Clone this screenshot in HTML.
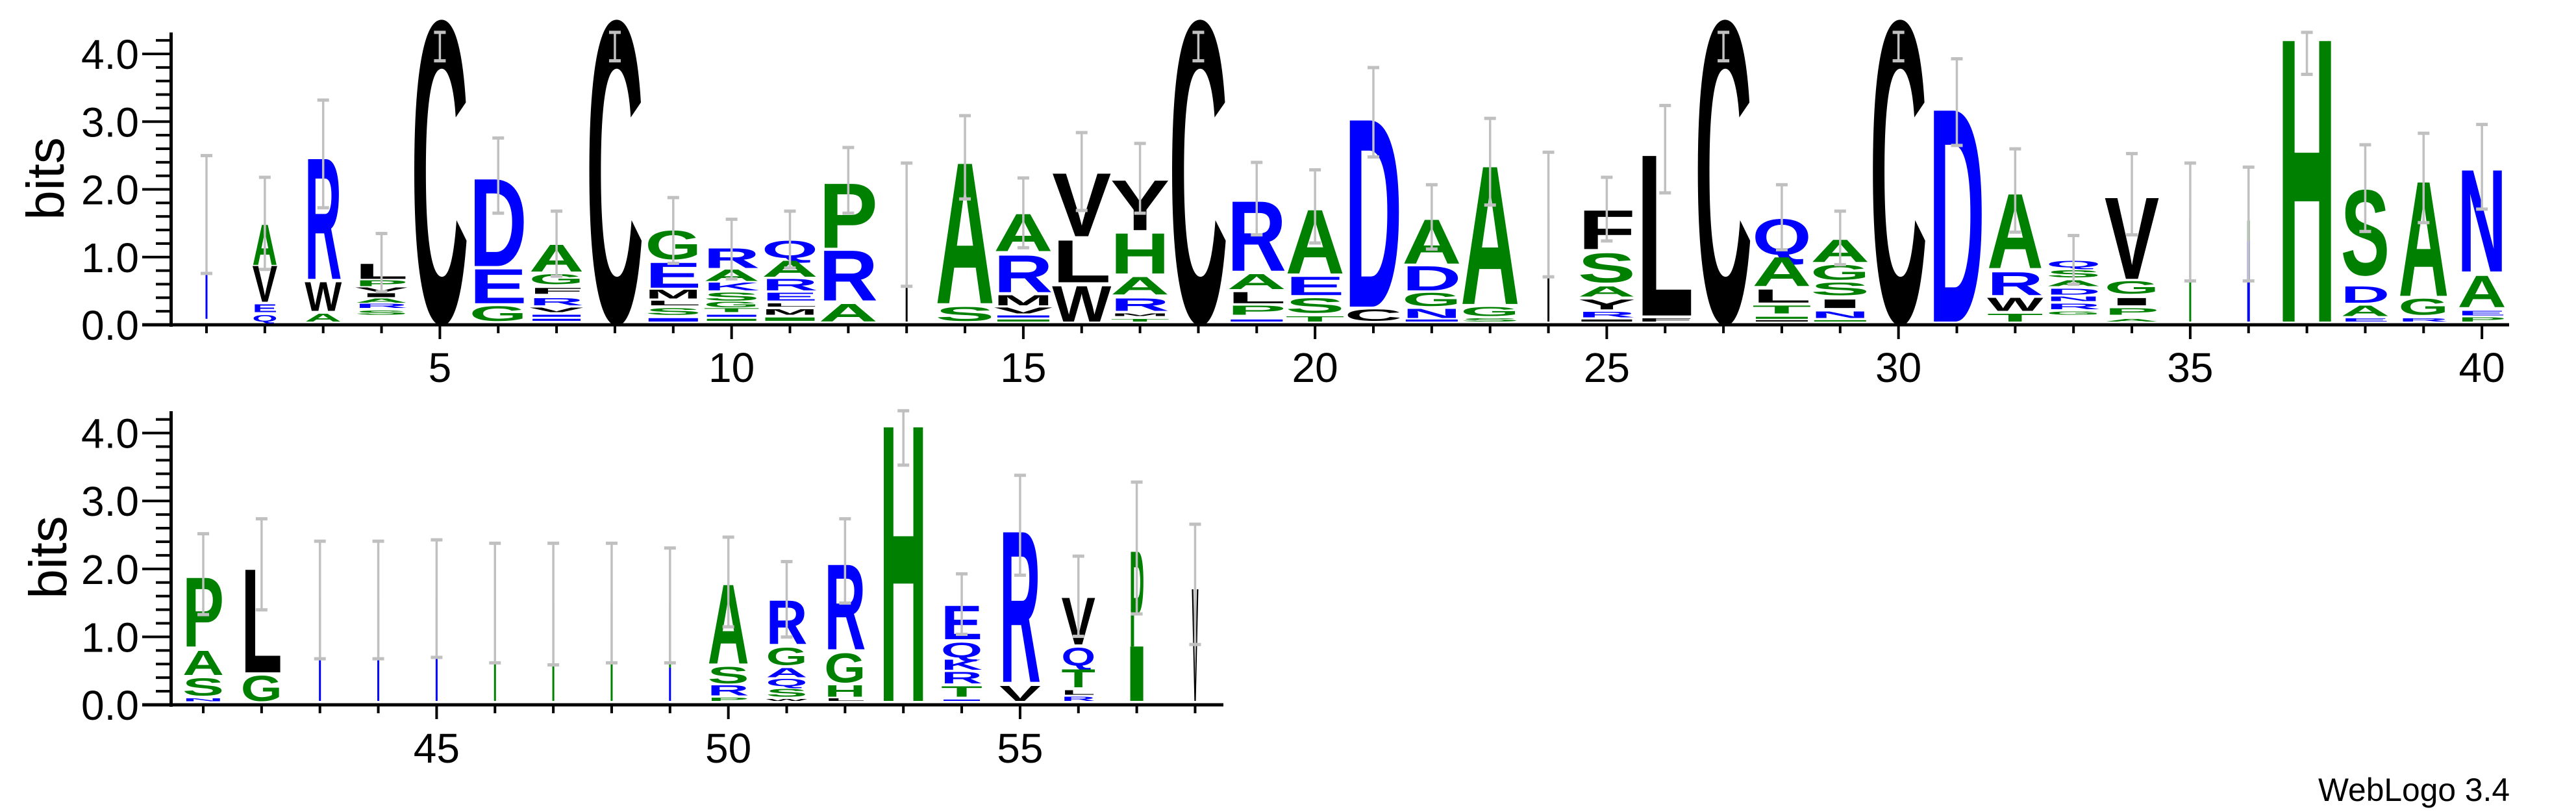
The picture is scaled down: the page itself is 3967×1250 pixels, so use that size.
<!DOCTYPE html>
<html><head><meta charset="utf-8">
<style>
html,body{margin:0;padding:0;background:#fff;}
svg{display:block;}
text{font-family:"Liberation Sans",Arial,sans-serif;}
</style></head>
<body>
<svg id="s" xmlns="http://www.w3.org/2000/svg" width="3967" height="1250" viewBox="0 0 3967 1250">
<rect width="3967" height="1250" fill="#fff"/>
<g id="axes"></g>
<g id="logo"></g>
<g id="err"></g>
<text x="3865" y="1233" font-size="50" text-anchor="end" textLength="295" lengthAdjust="spacingAndGlyphs">WebLogo 3.4</text>
<text transform="translate(98,275) rotate(-90)" font-size="82" text-anchor="middle">bits</text>
<text transform="translate(102,858) rotate(-90)" font-size="82" text-anchor="middle">bits</text>
</svg>
<script>
(function(){
var NS="http://www.w3.org/2000/svg";
var COL={g:"#008000",b:"#0000ff",k:"#000000"};
function el(p,t,a,txt){var e=document.createElementNS(NS,t);for(var k in a)e.setAttribute(k,a[k]);if(txt!==undefined)e.textContent=txt;p.appendChild(e);return e;}
var AX=document.getElementById("axes"),LG=document.getElementById("logo"),ER=document.getElementById("err");
var CE="C k 4.58 .01";
var TOPD=[
[1,3,["_ b 1.58 .05"],2.46,.72],
[2,34,["A g 1.46 .85","V k .85 .30","E b .27 .15","Q b .11 .01"],2.14,.78],
[3,50,["R b 2.48 .64","W k .61 .17","A g .13 .01"],3.28,1.69],
[4,72,["L k .87 .64","P g .62 .53","V k .51 .45","I k .43 .37","A g .35 .29","R b .27 .21","S g .17 .11"],1.31,.45],
[5,78,[CE],4.28,3.86],
[6,78,["D b 2.16 .83","E b .80 .28","G g .24 .02"],2.72,1.61],
[7,74,["A g 1.16 .75","G g .71 .56","F k .51 .42","R b .36 .25","V k .22 .15","_ b .11 .08","_ b .05 .02"],1.64,.68],
[8,78,[CE],4.28,3.86],
[9,76,["G g 1.36 .93","E b .89 .51","M k .48 .35","L k .32 .25","S g .21 .11","_ b .06 .01"],1.84,.87],
[10,76,["R b 1.10 .80","A g .78 .61","K b .59 .47","S g .44 .32","G g .30 .22","T g .21 .15","_ b .11 .08","_ g .05 .02"],1.52,.64],
[11,76,["Q b 1.21 .95","A g .91 .67","R b .64 .47","E b .44 .32","L k .28 .23","M k .19 .11","_ g .07 .02"],1.64,.80],
[12,80,["P g 2.08 1.10","R b 1.08 .32","A g .28 .01"],2.58,1.61],
[13,3,["_ k 1.42 .01"],2.35,.53],
[14,80,["A g 2.42 .28","S g .23 .02"],3.05,1.82],
[15,80,["A g 1.62 1.05","R b 1.00 .44","M k .40 .25","V k .22 .13","_ b .10 .07","_ g .04 .01"],2.13,1.10],
[16,80,["V k 2.23 1.27","L k 1.23 .59","W k .55 .01"],2.80,1.65],
[17,80,["Y k 2.12 1.36","H g 1.33 .72","A g .68 .41","R b .36 .17","M k .13 .09","T g .05 .01"],2.64,1.61],
[18,80,[CE],4.28,3.86],
[19,80,["R b 1.82 .76","A g .72 .49","L k .45 .28","P g .25 .11","_ b .04 .01"],2.36,1.29],
[20,80,["A g 1.69 .72","E b .68 .40","S g .36 .14","T g .09 .01"],2.25,1.17],
[21,78,["D b 3.09 .23","C k .19 .02"],3.76,2.44],
[22,80,["A g 1.54 .87","D b .84 .47","G g .44 .24","N b .20 .06","_ b .04 .01"],2.03,1.08],
[23,80,["A g 2.37 .27","G g .23 .09","S g .06 .01"],3.01,1.73],
[24,3,["_ k 1.59 .01"],2.51,.67],
[25,78,["F k 1.67 1.08","S g 1.03 .59","A g .53 .38","Y k .34 .19","R b .15 .07","_ k .04 .01"],2.14,1.20],
[26,78,["L k 2.55 .10","F k .06 .01"],3.20,1.91],
[27,78,[CE],4.28,3.86],
[28,80,["Q b 1.54 1.00","A g .97 .53","L k .49 .29","T g .25 .13","_ g .08 .05","_ k .03 .01"],2.03,1.07],
[29,80,["A g 1.23 .89","G g .85 .63","S g .59 .40","I k .34 .21","N b .16 .06","_ g .03 .01"],1.64,.85],
[30,78,[CE],4.28,3.86],
[31,76,["D b 3.25 .01"],3.89,2.61],
[32,76,["A g 1.93 .80","R b .75 .40","W k .37 .17","T g .13 .01"],2.56,1.33],
[33,74,["Q b .91 .81","S g .77 .66","A g .62 .53","D b .50 .41","N b .38 .31","R b .27 .19","G g .16 .11"],1.28,.56],
[34,74,["V k 1.88 .64","G g .61 .42","I k .36 .25","P g .21 .11","A g .05 .01"],2.49,1.29],
[35,3,["_ g 1.52 .01"],2.35,.61],
[36,4,["_ g 1.50 1.20","_ b 1.20 .01"],2.29,.61],
[37,80,["H g 4.32 .01"],4.28,3.66],
[38,66,["S g 1.99 .70","D b .54 .29","A g .25 .09","E b .06 .01"],2.62,1.34],
[39,68,["A g 2.13 .39","G g .35 .11","R b .06 .01"],2.79,1.47],
[40,66,["N b 2.30 .75","A g .70 .22","E b .17 .10","P g .07 .01"],2.92,1.67]
];
var BOTD=[
[41,56,["P g 1.86 .81","A g .76 .39","S g .35 .09","N b .05 .005"],2.47,1.28],
[42,56,["L k 2.00 .43","G g .39 .01"],2.69,1.35],
[43,3,["_ b 1.51 .01"],2.36,.63],
[44,3,["_ b 1.51 .01"],2.36,.63],
[45,3,["_ b 1.53 .01"],2.38,.65],
[46,3,["_ g 1.47 .01"],2.33,.57],
[47,3,["_ g 1.45 .01"],2.33,.54],
[48,3,["_ g 1.41 .01"],2.33,.57],
[49,3,["_ g 1.43 .50","_ b .50 .01"],2.26,.57],
[50,56,["A g 1.76 .56","S g .52 .27","R b .24 .09","P g .06 .01"],2.42,1.10],
[51,56,["R b 1.51 .85","G g .80 .54","A b .50 .36","Q b .34 .23","S g .19 .07","W k .04 .01"],2.06,.95],
[52,56,["R b 2.06 .77","G g .72 .28","H g .24 .07","L k .05 .01"],2.69,1.45],
[53,65,["H g 4.20 .01"],4.28,3.48],
[54,56,["E b 1.43 .92","Q b .87 .65","K b .62 .47","R b .44 .27","T g .23 .07","_ b .03 .01"],1.88,.99],
[55,56,["R b 2.58 .29","V k .24 .01"],3.33,1.86],
[56,46,["V k 1.55 .84","Q b .80 .53","T g .48 .21","L k .17 .10","R b .07 .01"],2.14,.96],
[57,20,["P g 2.26 .81","_ g .81 .01"],3.23,1.29],
[58,9,["V k 1.72 .01"],2.61,.84]
];
function panel(data,first,cx0,base,axisY,sc,yAxTop,xEnd,labY){
  el(AX,"rect",{x:261,y:yAxTop,width:5,height:axisY-yAxTop+3,fill:"#000"});
  el(AX,"rect",{x:219,y:axisY-2.5,width:xEnd-219,height:5,fill:"#000"});
  for(var i=0;i<=21;i++){var b=i*0.2,y=axisY-b*sc;var maj=(i%5==0);
    el(AX,"rect",{x:maj?219:240,y:y-2,width:maj?45:24,height:4,fill:"#000"});
    if(maj)el(AX,"text",{x:214,y:y+23,"font-size":64,"text-anchor":"end"},(b).toFixed(1));}
  data.forEach(function(c){
    var p=c[0],w=c[1],cx=cx0+(p-first)*89.85;
    var maj=(p%5==0);
    el(AX,"rect",{x:cx-2,y:axisY,width:4,height:maj?22:13,fill:"#000"});
    if(maj)el(AX,"text",{x:cx,y:labY,"font-size":64,"text-anchor":"middle"},""+p);
    c[2].forEach(function(s){var q=s.split(" ");var L=q[0],col=COL[q[1]],t=+q[2],bt=+q[3];
      var yt=base-t*sc,yb=base-bt*sc,h=yb-yt;if(h<=0)return;
      if(L=="_"||w<=6){el(LG,"rect",{x:cx-w/2,y:yt,width:w,height:h,fill:col});return;}
      var fs=h/0.716;var tw=w*1.14;
      el(LG,"text",{x:cx-tw/2,y:yb,"font-size":fs.toFixed(2),"font-weight":"bold",fill:col,textLength:tw.toFixed(2),lengthAdjust:"spacingAndGlyphs"},L);
    });
    var et=base-c[3]*sc,eb=base-c[4]*sc;
    el(ER,"rect",{x:cx-1.75,y:et,width:3.5,height:eb-et,fill:"#c0c0c0"});
    el(ER,"rect",{x:cx-9,y:et-2.5,width:18,height:5,fill:"#c0c0c0"});
    el(ER,"rect",{x:cx-9,y:eb-2.5,width:18,height:5,fill:"#c0c0c0"});
  });
}
panel(TOPD,1,318,496,500,104.25,50,3864,588);
panel(BOTD,41,313,1080,1085,104.6,633,1884,1174);
})();
</script>
</body></html>
